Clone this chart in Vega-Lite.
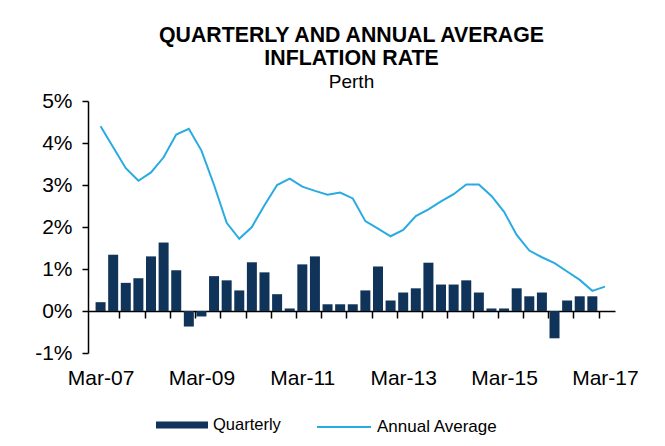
{
  "$schema": "https://vega.github.io/schema/vega-lite/v6.json",
  "width": 527,
  "height": 252,
  "autosize": "none",
  "padding": {"left": 88, "top": 101, "right": 50, "bottom": 93},
  "background": "white",
  "config": {
    "view": {"stroke": null},
    "font": "Liberation Sans"
  },
  "title": {
    "text": ["QUARTERLY AND ANNUAL AVERAGE", "INFLATION RATE"],
    "subtitle": "Perth",
    "anchor": "middle",
    "frame": "group",
    "font": "Liberation Sans",
    "fontSize": 21.3,
    "fontWeight": "bold",
    "color": "black",
    "lineHeight": 23,
    "subtitleFont": "Liberation Sans",
    "subtitleFontSize": 19,
    "subtitleColor": "black",
    "subtitlePadding": 4,
    "offset": -2
  },
  "data": {
    "values": [
      {"i": 0, "q": "Mar-07", "quarterly": 0.21, "annual": 4.40},
      {"i": 1, "q": "Jun-07", "quarterly": 1.34, "annual": 3.90},
      {"i": 2, "q": "Sep-07", "quarterly": 0.67, "annual": 3.40},
      {"i": 3, "q": "Dec-07", "quarterly": 0.78, "annual": 3.10},
      {"i": 4, "q": "Mar-08", "quarterly": 1.30, "annual": 3.30},
      {"i": 5, "q": "Jun-08", "quarterly": 1.63, "annual": 3.66},
      {"i": 6, "q": "Sep-08", "quarterly": 0.97, "annual": 4.20},
      {"i": 7, "q": "Dec-08", "quarterly": -0.37, "annual": 4.34},
      {"i": 8, "q": "Mar-09", "quarterly": -0.13, "annual": 3.82},
      {"i": 9, "q": "Jun-09", "quarterly": 0.83, "annual": 3.00},
      {"i": 10, "q": "Sep-09", "quarterly": 0.73, "annual": 2.10},
      {"i": 11, "q": "Dec-09", "quarterly": 0.49, "annual": 1.72},
      {"i": 12, "q": "Mar-10", "quarterly": 1.16, "annual": 2.00},
      {"i": 13, "q": "Jun-10", "quarterly": 0.92, "annual": 2.52},
      {"i": 14, "q": "Sep-10", "quarterly": 0.40, "annual": 3.00},
      {"i": 15, "q": "Dec-10", "quarterly": 0.06, "annual": 3.15},
      {"i": 16, "q": "Mar-11", "quarterly": 1.11, "annual": 2.96},
      {"i": 17, "q": "Jun-11", "quarterly": 1.30, "annual": 2.86},
      {"i": 18, "q": "Sep-11", "quarterly": 0.16, "annual": 2.77},
      {"i": 19, "q": "Dec-11", "quarterly": 0.16, "annual": 2.82},
      {"i": 20, "q": "Mar-12", "quarterly": 0.16, "annual": 2.68},
      {"i": 21, "q": "Jun-12", "quarterly": 0.49, "annual": 2.14},
      {"i": 22, "q": "Sep-12", "quarterly": 1.06, "annual": 1.96},
      {"i": 23, "q": "Dec-12", "quarterly": 0.25, "annual": 1.78},
      {"i": 24, "q": "Mar-13", "quarterly": 0.44, "annual": 1.93},
      {"i": 25, "q": "Jun-13", "quarterly": 0.54, "annual": 2.26},
      {"i": 26, "q": "Sep-13", "quarterly": 1.15, "annual": 2.42},
      {"i": 27, "q": "Dec-13", "quarterly": 0.63, "annual": 2.61},
      {"i": 28, "q": "Mar-14", "quarterly": 0.63, "annual": 2.78},
      {"i": 29, "q": "Jun-14", "quarterly": 0.73, "annual": 3.01},
      {"i": 30, "q": "Sep-14", "quarterly": 0.44, "annual": 3.01},
      {"i": 31, "q": "Dec-14", "quarterly": 0.06, "annual": 2.74},
      {"i": 32, "q": "Mar-15", "quarterly": 0.06, "annual": 2.36},
      {"i": 33, "q": "Jun-15", "quarterly": 0.54, "annual": 1.81},
      {"i": 34, "q": "Sep-15", "quarterly": 0.35, "annual": 1.44},
      {"i": 35, "q": "Dec-15", "quarterly": 0.44, "annual": 1.28},
      {"i": 36, "q": "Mar-16", "quarterly": -0.65, "annual": 1.14},
      {"i": 37, "q": "Jun-16", "quarterly": 0.25, "annual": 0.94},
      {"i": 38, "q": "Sep-16", "quarterly": 0.35, "annual": 0.74},
      {"i": 39, "q": "Dec-16", "quarterly": 0.35, "annual": 0.48},
      {"i": 40, "q": "Mar-17", "quarterly": null, "annual": 0.58}
    ]
  },
  "encoding": {
    "x": {
      "field": "i",
      "type": "quantitative",
      "scale": {"domain": [-0.6, 40.4], "nice": false, "zero": false},
      "axis": {
        "title": null,
        "grid": false,
        "values": [0, 8, 16, 24, 32, 40, 1.5, 3.5, 5.5, 7.5, 9.5, 11.5, 13.5, 15.5, 17.5, 19.5, 21.5, 23.5, 25.5, 27.5, 29.5, 31.5, 33.5, 35.5, 37.5, 39.5],
        "labelExpr": "datum.value % 8 == 0 ? 'Mar-' + ((datum.value / 4 + 7) < 10 ? '0' : '') + (datum.value / 4 + 7) : ''",
        "tickOpacity": {"condition": {"test": "datum.value % 8 == 0", "value": 0}, "value": 1},
        "offset": -42,
        "tickSize": 7,
        "tickColor": "black",
        "tickWidth": 1.5,
        "domainColor": "black",
        "domainWidth": 1.5,
        "labelFont": "Liberation Sans",
        "labelFontSize": 21,
        "labelColor": "black",
        "labelPadding": 49,
        "labelFlush": false,
        "labelOverlap": false,
        "labelBound": false
      }
    }
  },
  "layer": [
    {
      "mark": {"type": "bar", "width": 10},
      "encoding": {
        "y": {
          "field": "quarterly",
          "type": "quantitative",
          "scale": {"domain": [-1, 5], "nice": false},
          "axis": {
            "title": null,
            "grid": false,
            "values": [-1, 0, 1, 2, 3, 4, 5],
            "labelExpr": "datum.value + '%'",
            "tickSize": 6,
            "tickColor": "black",
            "tickWidth": 1.5,
            "domainColor": "black",
            "domainWidth": 1.5,
            "labelFont": "Liberation Sans",
            "labelFontSize": 21,
            "labelColor": "black",
            "labelPadding": 10
          }
        },
        "color": {
          "datum": "Quarterly",
          "scale": {"domain": ["Quarterly"], "range": ["#10335a"]},
          "legend": {
            "orient": "none",
            "legendX": 68,
            "legendY": 298,
            "title": null,
            "padding": 0,
            "symbolType": "M-1,-0.135H1V0.135H-1Z",
            "symbolSize": 2704,
            "symbolStrokeWidth": 0,
            "symbolOpacity": 1,
            "labelFont": "Liberation Sans",
            "labelFontSize": 16.5,
            "labelColor": "black",
            "labelOffset": 5
          }
        }
      }
    },
    {
      "mark": {"type": "line", "strokeWidth": 2},
      "encoding": {
        "y": {
          "field": "annual",
          "type": "quantitative",
          "scale": {"domain": [-1, 5], "nice": false},
          "axis": {
            "title": null,
            "grid": false,
            "values": [-1, 0, 1, 2, 3, 4, 5],
            "labelExpr": "datum.value + '%'",
            "tickSize": 6,
            "tickColor": "black",
            "tickWidth": 1.5,
            "domainColor": "black",
            "domainWidth": 1.5,
            "labelFont": "Liberation Sans",
            "labelFontSize": 21,
            "labelColor": "black",
            "labelPadding": 10
          }
        },
        "stroke": {
          "datum": "Annual Average",
          "scale": {"domain": ["Annual Average"], "range": ["#29abe2"]},
          "legend": {
            "orient": "none",
            "legendX": 228,
            "legendY": 298,
            "title": null,
            "padding": 0,
            "symbolType": "stroke",
            "symbolSize": 2916,
            "symbolStrokeWidth": 2,
            "labelFont": "Liberation Sans",
            "labelFontSize": 17,
            "labelColor": "black",
            "labelOffset": 5
          }
        }
      }
    }
  ]
}
